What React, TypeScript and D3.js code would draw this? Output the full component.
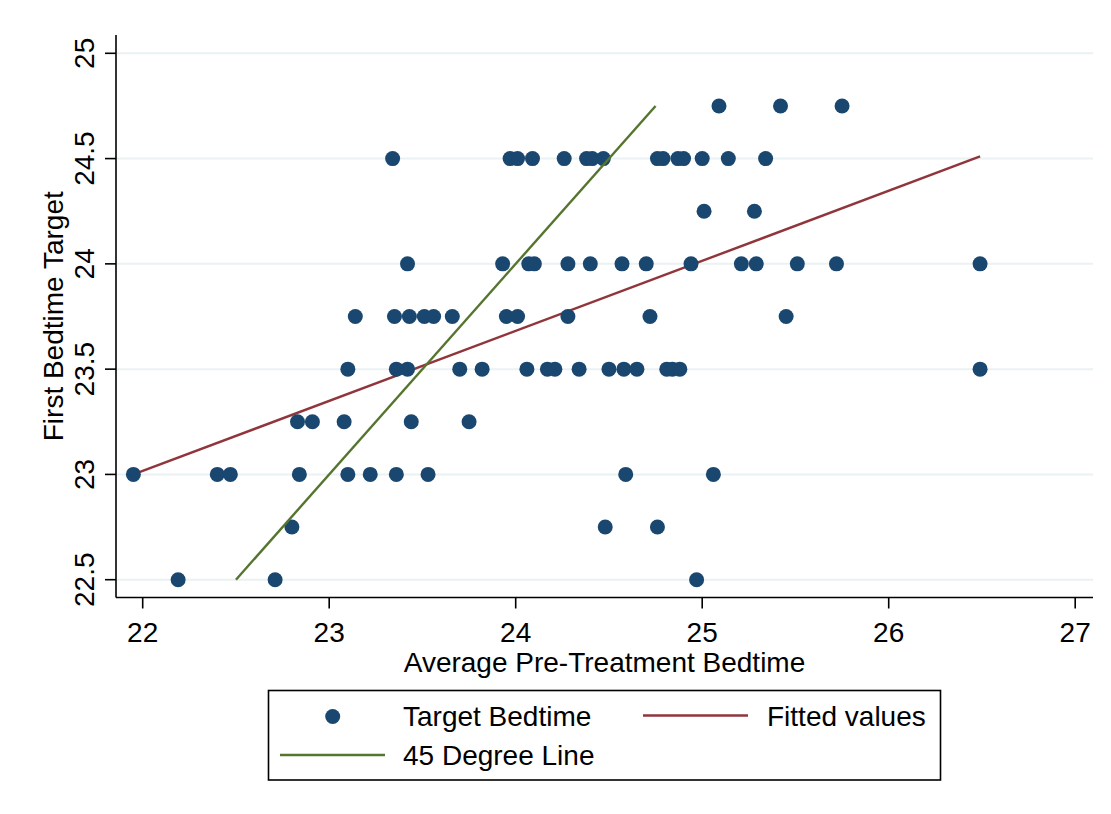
import React from "react";
import * as d3 from "d3";

// Scatter data: pre-treatment average bedtime (x) vs first bedtime target (y)
const targetX: number[] = [
  25.09, 25.42, 25.75,
  23.34, 23.97, 24.01, 24.09, 24.26, 24.38, 24.41, 24.47, 24.76, 24.79, 24.87, 24.9, 25.0, 25.14, 25.34,
  25.01, 25.28,
  23.42, 23.93, 24.07, 24.1, 24.28, 24.4, 24.57, 24.7, 24.94, 25.21, 25.29, 25.51, 25.72, 26.49,
  23.14, 23.35, 23.43, 23.51, 23.56, 23.66, 23.95, 24.01, 24.28, 24.72, 25.45,
  23.1, 23.36, 23.42, 23.7, 23.82, 24.06, 24.17, 24.21, 24.34, 24.5, 24.58, 24.65, 24.81, 24.84, 24.88, 26.49,
  22.83, 22.91, 23.08, 23.44, 23.75,
  21.95, 22.4, 22.47, 22.84, 23.1, 23.22, 23.36, 23.53, 24.59, 25.06,
  22.8, 24.48, 24.76,
  22.19, 22.71, 24.97,
];
const targetY: number[] = [
  24.75, 24.75, 24.75,
  24.5, 24.5, 24.5, 24.5, 24.5, 24.5, 24.5, 24.5, 24.5, 24.5, 24.5, 24.5, 24.5, 24.5, 24.5,
  24.25, 24.25,
  24, 24, 24, 24, 24, 24, 24, 24, 24, 24, 24, 24, 24, 24,
  23.75, 23.75, 23.75, 23.75, 23.75, 23.75, 23.75, 23.75, 23.75, 23.75, 23.75,
  23.5, 23.5, 23.5, 23.5, 23.5, 23.5, 23.5, 23.5, 23.5, 23.5, 23.5, 23.5, 23.5, 23.5, 23.5, 23.5,
  23.25, 23.25, 23.25, 23.25, 23.25,
  23, 23, 23, 23, 23, 23, 23, 23, 23, 23,
  22.75, 22.75, 22.75,
  22.5, 22.5, 22.5,
];

const fittedX: number[] = [21.95, 26.49];
const fittedY: number[] = [23.0, 24.51];
const degreeX: number[] = [22.5, 24.75];
const degreeY: number[] = [22.5, 24.75];

const xTicks: number[] = [22, 23, 24, 25, 26, 27];
const yTicks: number[] = [22.5, 23, 23.5, 24, 24.5, 25];

const legendLabels = ["Target Bedtime", "Fitted values", "45 Degree Line"];
const xTitle = "Average Pre-Treatment Bedtime";
const yTitle = "First Bedtime Target";

const NAVY = "#1a476f";
const MAROON = "#90353b";
const GREEN = "#55752f";
const GRID = "#eaf2f3";
const FONT = "'Liberation Sans', Arial, sans-serif";

export default function App() {
  const W = 1111;
  const H = 814;
  const plotL = 116;
  const plotR = 1093;
  const plotT = 35;
  const plotB = 597.5;

  const x = d3.scaleLinear().domain([22, 27]).range([142.7, 1075.2]);
  const y = d3.scaleLinear().domain([22.5, 25]).range([579.7, 53.3]);

  const line = d3
    .line<[number, number]>()
    .x((d) => x(d[0]))
    .y((d) => y(d[1]));

  const fitted: [number, number][] = fittedX.map((v, i) => [v, fittedY[i]]);
  const degree: [number, number][] = degreeX.map((v, i) => [v, degreeY[i]]);

  const fs = 28;

  return (
    <svg
      width={W}
      height={H}
      style={{ position: "absolute", left: 0, top: 0, background: "#fff" }}
      fontFamily={FONT}
    >
      <rect x={0} y={0} width={W} height={H} fill="#fff" />
      {/* gridlines */}
      {yTicks.map((t) => (
        <line key={"g" + t} x1={plotL + 1} x2={plotR} y1={y(t)} y2={y(t)} stroke={GRID} strokeWidth={2} />
      ))}
      {/* fitted line */}
      <path d={line(fitted) || ""} fill="none" stroke={MAROON} strokeWidth={2.4} />
      {/* points */}
      {targetX.map((v, i) => (
        <circle key={"p" + i} cx={x(v)} cy={y(targetY[i])} r={7.5} fill={NAVY} />
      ))}
      {/* 45 degree line */}
      <path d={line(degree) || ""} fill="none" stroke={GREEN} strokeWidth={2.4} />
      {/* axes */}
      <line x1={plotL} x2={plotL} y1={plotT} y2={plotB} stroke="#000" strokeWidth={1.6} />
      <line x1={plotL} x2={plotR} y1={plotB} y2={plotB} stroke="#000" strokeWidth={1.6} />
      {xTicks.map((t) => (
        <g key={"xt" + t}>
          <line x1={x(t)} x2={x(t)} y1={plotB} y2={plotB + 11} stroke="#000" strokeWidth={1.6} />
          <text x={x(t)} y={641.5} textAnchor="middle" fontSize={fs} fill="#000">
            {t}
          </text>
        </g>
      ))}
      {yTicks.map((t) => (
        <g key={"yt" + t}>
          <line x1={plotL - 11} x2={plotL} y1={y(t)} y2={y(t)} stroke="#000" strokeWidth={1.6} />
          <text
            transform={`translate(94,${y(t)}) rotate(-90)`}
            textAnchor="middle"
            fontSize={fs}
            fill="#000"
          >
            {t}
          </text>
        </g>
      ))}
      <text x={(plotL + plotR) / 2} y={672} textAnchor="middle" fontSize={fs} fill="#000">
        {xTitle}
      </text>
      <text
        transform={`translate(63,${(plotT + plotB) / 2}) rotate(-90)`}
        textAnchor="middle"
        fontSize={fs}
        fill="#000"
      >
        {yTitle}
      </text>
      {/* legend */}
      <rect x={268.5} y={690.5} width={672} height={89.5} fill="#fff" stroke="#000" strokeWidth={1.6} />
      <circle cx={332.7} cy={716.5} r={7.5} fill={NAVY} />
      <text x={403} y={726} fontSize={fs} fill="#000">
        {legendLabels[0]}
      </text>
      <line x1={643} x2={748} y1={715.5} y2={715.5} stroke={MAROON} strokeWidth={2.5} />
      <text x={767} y={726} fontSize={fs} fill="#000">
        {legendLabels[1]}
      </text>
      <line x1={280} x2={385} y1={755} y2={755} stroke={GREEN} strokeWidth={2.5} />
      <text x={403} y={764.5} fontSize={fs} fill="#000">
        {legendLabels[2]}
      </text>
    </svg>
  );
}
